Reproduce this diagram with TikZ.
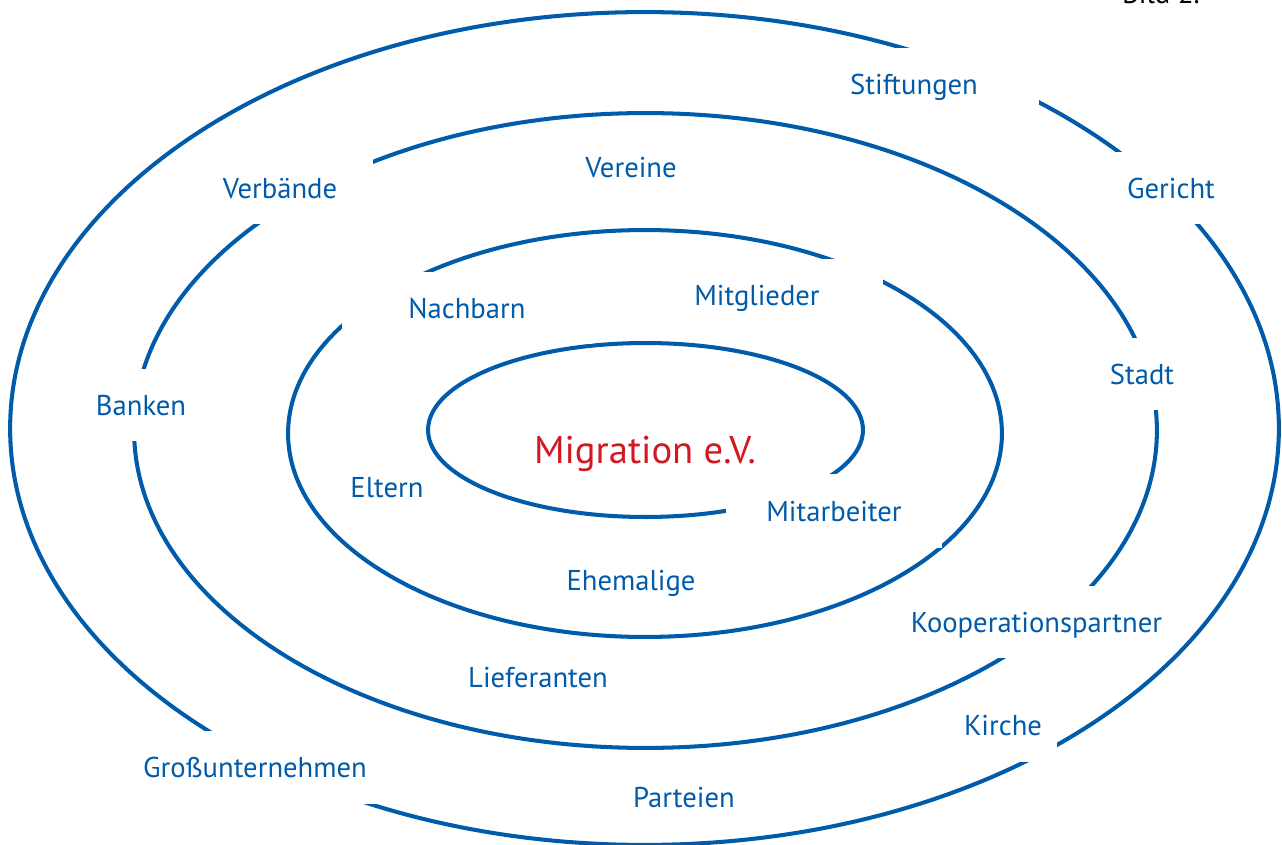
\documentclass[tikz,border=0pt]{standalone}
\usepackage{fontspec}
\setmainfont{PT Sans}
\usepackage{tikz}
\usetikzlibrary{positioning}
\definecolor{ringblue}{RGB}{0,91,170}
\definecolor{clubred}{RGB}{210,24,34}
\tikzset{
    ring/.style={draw=ringblue, line width=2.3pt},
    tag/.style={text=ringblue, font=\fontsize{16.3}{19}\selectfont, inner sep=0pt, text height=11.4pt, text depth=0pt},
    gap/.style={tag, fill=white, minimum height=1.46cm},
    center tag/.style={text=clubred, font=\fontsize{22}{26}\selectfont, inner sep=0pt, text height=15.4pt, text depth=0pt}
}

\begin{document}
\begin{tikzpicture}[x=0.02cm, y=-0.02cm]
            \useasboundingbox (0,0) rectangle (1282,845);
            \draw[ring] (644.5,428.5) ellipse [x radius=12.69cm, y radius=8.33cm];
            \draw[ring] (645.5,430.5) ellipse [x radius=10.23cm, y radius=6.35cm];
            \draw[ring] (645,433.5) ellipse [x radius=7.14cm, y radius=4.07cm];
            \draw[ring] (645.5,430) ellipse [x radius=4.35cm, y radius=1.74cm];

            \node[center tag] (verein) at (645,450) {Migration e.V.};

            \node[gap, minimum width=5cm] (stiftungen) at (914,84) {Stiftungen};
            \node[gap, minimum width=3.4cm] (gericht) at (1171,188) {Gericht};
            \node[gap, minimum width=3.72cm] (verbaende) at (280,188) {Verbände};
            \node[gap, minimum width=5cm] (nachbarn) at (467,308) {Nachbarn};
            \node[gap, minimum width=5.04cm] (mitglieder) at (757,295) {Mitglieder};
            \node[gap, minimum width=2.4cm] (stadt) at (1142,374) {Stadt};
            \node[gap, minimum width=2.8cm] (banken) at (141,405) {Banken};
            \node[gap, minimum width=4.32cm, minimum height=1.48cm] (mitarbeiter) at (834,511) {Mitarbeiter};
            \node[gap, minimum width=5.28cm] (koop) at (1036.5,622) {Kooperationspartner};
            \node[gap, minimum width=2.16cm] (kirche) at (1003,725) {Kirche};
            \node[gap, minimum width=5.2cm] (gross) at (255,767) {Großunternehmen};

            \node[tag] (vereine) at (631,167) {Vereine};
            \node[tag] (eltern) at (387,487) {Eltern};
            \node[tag] (ehemalige) at (631,580) {Ehemalige};
            \node[tag] (lieferanten) at (538,677) {Lieferanten};
            \node[tag] (parteien) at (684,797) {Parteien};

            \node[anchor=base, font=\fontsize{16.3}{19}\selectfont, inner sep=0pt] (bild) at (1161,4) {Bild 2.};
        \end{tikzpicture}
\end{document}
